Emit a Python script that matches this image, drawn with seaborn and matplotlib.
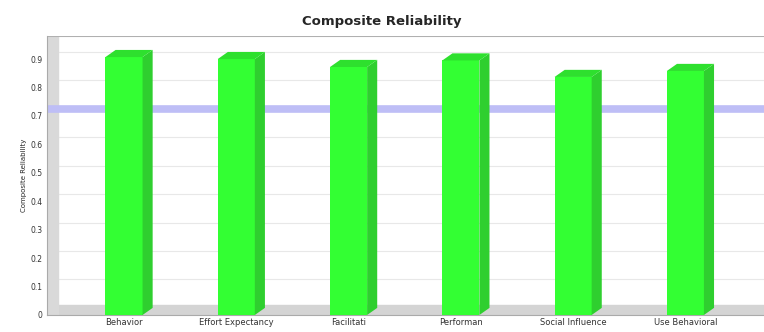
import numpy as np
import pandas as pd
import seaborn as sns
import matplotlib.pyplot as plt
from matplotlib.patches import Polygon

constructs = ["Behavior", "Effort Expectancy", "Facilitati", "Performan",
              "Social Influence", "Use Behavioral"]
reliability = [0.907, 0.900, 0.872, 0.895, 0.837, 0.858]
threshold = 0.7
yticks = [0, 0.1, 0.2, 0.3, 0.4, 0.5, 0.6, 0.7, 0.8, 0.9]

df = pd.DataFrame({"construct": constructs, "value": reliability})

sns.set_style("white")
plt.rcParams['font.family'] = ['DejaVu Sans']

fig = plt.figure(figsize=(7.64, 3.32), dpi=100)
ax = fig.add_axes([47 / 764, 17 / 332, 1 - 47 / 764, (315 - 36) / 332])

# 3d offsets (style only)
dx, dy = 0.09, 0.025

sns.barplot(data=df, x="construct", y="value", color="#33ff33", width=0.33,
            saturation=1, edgecolor="none", ax=ax, zorder=3)

for p in ax.patches:
    x0 = p.get_x()
    x1 = x0 + p.get_width()
    h = p.get_height()
    side = Polygon([(x1, 0), (x1 + dx, dy), (x1 + dx, h + dy), (x1, h)],
                   closed=True, facecolor="#2fcf2f", edgecolor="none", zorder=3)
    top = Polygon([(x0, h), (x0 + dx, h + dy), (x1 + dx, h + dy), (x1, h)],
                  closed=True, facecolor="#2ee02e", edgecolor="none", zorder=3)
    ax.add_patch(side)
    ax.add_patch(top)

ax.set_xlim(-0.686, 5.70)
ax.set_ylim(0, 0.981)

# back wall grid, floor and left wall
for t in yticks[1:]:
    ax.axhline(t + dy, color="#e8e8e8", lw=0.8, zorder=1)
ax.axhline(threshold + dy, color="#bebef6", lw=5.5, zorder=2)
ax.axhspan(0, 0.036, xmin=0, xmax=1, color="#d4d4d4", zorder=1)
ax.axvspan(-0.686, -0.59, color="#d9d9d9", zorder=1)
ax.axhline(0.981, color="#b0b0b0", lw=1.5, zorder=1)

ax.set_yticks(yticks)
ax.set_yticklabels([f"{t:g}" for t in yticks], fontsize=5.5, color="#333333")
ax.tick_params(axis="x", labelsize=6, colors="#333333", length=0, pad=2.5)
ax.tick_params(axis="y", length=2, pad=1, width=0.5)
for s in ["top", "right"]:
    ax.spines[s].set_visible(False)
ax.spines["left"].set_color("#aaaaaa")
ax.spines["bottom"].set_color("#aaaaaa")
ax.set_xlabel("")
ax.set_ylabel("Composite Reliability", fontsize=5, labelpad=3)

fig.text(0.5, 0.935, "Composite Reliability", ha="center", va="center",
         fontsize=9.5, fontweight="bold")

fig.savefig("out.png", dpi=100)
